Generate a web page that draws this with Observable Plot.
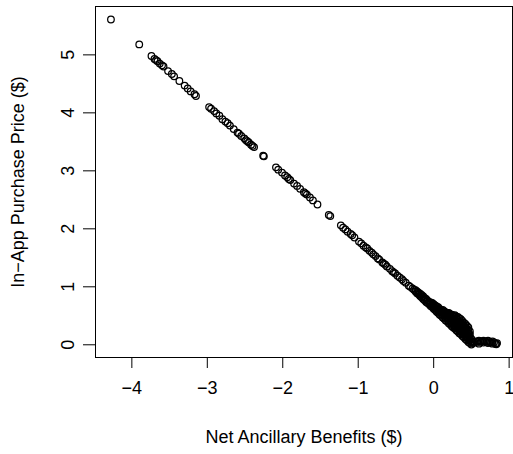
<!DOCTYPE html>
<html>
<head>
<meta charset="utf-8">
<script src="https://cdn.jsdelivr.net/npm/d3@7"></script>
<script src="https://cdn.jsdelivr.net/npm/@observablehq/plot@0.6"></script>
<style>
  body { margin: 0; background: #fff; }
</style>
</head>
<body>
<div id="chart"></div>
<script>
// Axis titles and ticks
const xTitle = "Net Ancillary Benefits ($)";
const yTitle = "In\u2212App Purchase Price ($)";
const xTicks = [-4, -3, -2, -1, 0, 1];
const yTicks = [0, 1, 2, 3, 4, 5];

// Individually visible points along the upper part of the line
const lineBenefit = [
  -4.277, -3.902, -3.74, -3.70, -3.68, -3.66, -3.63, -3.60, -3.58, -3.52,
  -3.47, -3.44, -3.37, -3.30, -3.26, -3.22, -3.17, -3.15, -2.976, -2.95,
  -2.91, -2.88, -2.84, -2.80, -2.76, -2.73, -2.70, -2.65, -2.60, -2.58,
  -2.55, -2.51, -2.49, -2.47, -2.45, -2.42, -2.40, -2.38, -2.26, -2.25,
  -2.09, -2.06, -2.01, -1.97, -1.94, -1.92, -1.90, -1.85, -1.81, -1.77,
  -1.72, -1.70, -1.68, -1.64, -1.60, -1.54, -1.39, -1.37, -1.23, -1.20,
  -1.17, -1.14, -1.10, -1.08, -1.05, -0.99, -0.96, -0.93, -0.90, -0.88,
  -0.85, -0.82, -0.80, -0.77, -0.74, -0.72, -0.68, -0.66, -0.64, -0.62,
  -0.58, -0.55, -0.53, -0.51, -0.48, -0.45, -0.42, -0.40, -0.37, -0.33,
  -0.31
];
const linePrice = [
  5.61, 5.18, 4.98, 4.93, 4.91, 4.89, 4.85, 4.82, 4.80, 4.72,
  4.67, 4.63, 4.55, 4.47, 4.42, 4.37, 4.32, 4.29, 4.10, 4.07,
  4.03, 3.99, 3.95, 3.89, 3.85, 3.82, 3.78, 3.72, 3.66, 3.64,
  3.60, 3.56, 3.53, 3.51, 3.49, 3.45, 3.43, 3.41, 3.26, 3.25,
  3.06, 3.02, 2.97, 2.92, 2.89, 2.86, 2.84, 2.78, 2.74, 2.69,
  2.63, 2.61, 2.59, 2.54, 2.49, 2.42, 2.24, 2.22, 2.06, 2.02,
  1.99, 1.95, 1.91, 1.89, 1.85, 1.78, 1.75, 1.71, 1.68, 1.66,
  1.62, 1.59, 1.56, 1.53, 1.49, 1.47, 1.42, 1.40, 1.38, 1.35,
  1.31, 1.27, 1.25, 1.23, 1.19, 1.16, 1.13, 1.10, 1.07, 1.02,
  1.00
];

// Dense cluster near zero benefit: one benefit value, several prices each
const clusterBenefit = [
  -0.28, -0.26, -0.24, -0.22, -0.20, -0.18, -0.16, -0.14, -0.12, -0.10,
  -0.08, -0.06, -0.04, -0.02, 0.00, 0.02, 0.04, 0.06, 0.08, 0.10,
  0.12, 0.14, 0.16, 0.18, 0.20, 0.22, 0.24, 0.26, 0.28, 0.30,
  0.32, 0.34, 0.36, 0.38, 0.40, 0.42, 0.44, 0.46, 0.48, 0.50, 0.52
];
const clusterPrices = [
  [0.97], [0.95], [0.92, 0.94], [0.89, 0.92], [0.87, 0.90],
  [0.84, 0.88], [0.82, 0.86], [0.79, 0.84], [0.77, 0.81], [0.74, 0.79],
  [0.72, 0.76], [0.70, 0.74], [0.67, 0.71, 0.73], [0.65, 0.69, 0.72], [0.62, 0.66, 0.70],
  [0.60, 0.64, 0.68], [0.57, 0.62, 0.66], [0.55, 0.60, 0.65], [0.52, 0.57, 0.62], [0.50, 0.55, 0.60],
  [0.47, 0.52, 0.57, 0.60], [0.45, 0.50, 0.54, 0.58], [0.42, 0.47, 0.52, 0.56], [0.40, 0.45, 0.50, 0.55],
  [0.37, 0.42, 0.47, 0.52, 0.55], [0.35, 0.40, 0.45, 0.50, 0.53], [0.32, 0.37, 0.42, 0.47, 0.52],
  [0.30, 0.35, 0.40, 0.45, 0.50], [0.28, 0.33, 0.38, 0.43, 0.48, 0.51], [0.25, 0.30, 0.35, 0.40, 0.45, 0.49],
  [0.23, 0.28, 0.33, 0.38, 0.43, 0.48], [0.20, 0.25, 0.30, 0.35, 0.40, 0.46], [0.18, 0.23, 0.28, 0.33, 0.38, 0.44],
  [0.15, 0.20, 0.25, 0.30, 0.35, 0.41], [0.13, 0.18, 0.23, 0.28, 0.33, 0.38], [0.10, 0.15, 0.20, 0.25, 0.30, 0.36],
  [0.08, 0.13, 0.18, 0.23, 0.28, 0.33], [0.05, 0.10, 0.15, 0.20, 0.25, 0.30], [0.03, 0.08, 0.13, 0.18, 0.23],
  [0.005, 0.05, 0.10], [0.03, 0.06]
];

// Flat tail of near-free purchases with positive benefit
const tailBenefit = [0.54, 0.56, 0.58, 0.60, 0.62, 0.64, 0.66, 0.68, 0.70, 0.72, 0.74, 0.76, 0.78, 0.80, 0.82, 0.84, 0.60, 0.66, 0.72, 0.78, 0.83];
const tailPrice   = [0.04, 0.06, 0.05, 0.07, 0.05, 0.06, 0.04, 0.06, 0.05, 0.03, 0.05, 0.04, 0.02, 0.04, 0.02, 0.03, 0.02, 0.07, 0.07, 0.06, 0.01];

// Assemble one table of points
const points = [];
lineBenefit.forEach((b, i) => points.push({benefit: b, price: linePrice[i]}));
clusterBenefit.forEach((b, i) => clusterPrices[i].forEach(p => points.push({benefit: b, price: p})));
tailBenefit.forEach((b, i) => points.push({benefit: b, price: tailPrice[i]}));

// Axis limits padded by 4% of the data range on each side
function padded(values) {
  const [lo, hi] = d3.extent(values);
  const pad = 0.04 * (hi - lo);
  return [lo - pad, hi + pad];
}
const xDomain = padded(points.map(d => d.benefit));
const yDomain = padded(points.map(d => d.price));
const intFormat = d3.format("d");

const chart = Plot.plot({
  width: 513,
  height: 454,
  marginLeft: 95,
  marginRight: 1,
  marginTop: 6,
  marginBottom: 97,
  style: {
    fontFamily: "'Liberation Sans', Arial, Helvetica, sans-serif",
    fontSize: "18px",
    background: "#fff",
    color: "#000"
  },
  x: {domain: xDomain, nice: false},
  y: {domain: yDomain, nice: false},
  marks: [
    Plot.frame({stroke: "#000", strokeWidth: 1}),
    Plot.axisX({ticks: xTicks, tickFormat: intFormat, tickSize: 11, tickPadding: 13, label: null, stroke: "#000", fill: "#000", fontSize: 18}),
    Plot.axisY({ticks: yTicks, tickFormat: intFormat, tickSize: 12, tickPadding: 10, tickRotate: -90, label: null, stroke: "#000", fill: "#000", fontSize: 18}),
    Plot.text([xTitle], {frameAnchor: "bottom", dy: 80, textAnchor: "middle", lineAnchor: "middle", fontSize: 18, fill: "#000"}),
    Plot.text([yTitle], {frameAnchor: "left", dx: -77, rotate: -90, textAnchor: "middle", lineAnchor: "middle", fontSize: 18, fill: "#000"}),
    Plot.dot(points, {x: "benefit", y: "price", r: 3.3, stroke: "#000", strokeWidth: 1.25, fill: "none"})
  ]
});

document.getElementById("chart").appendChild(chart);
</script>
</body>
</html>
